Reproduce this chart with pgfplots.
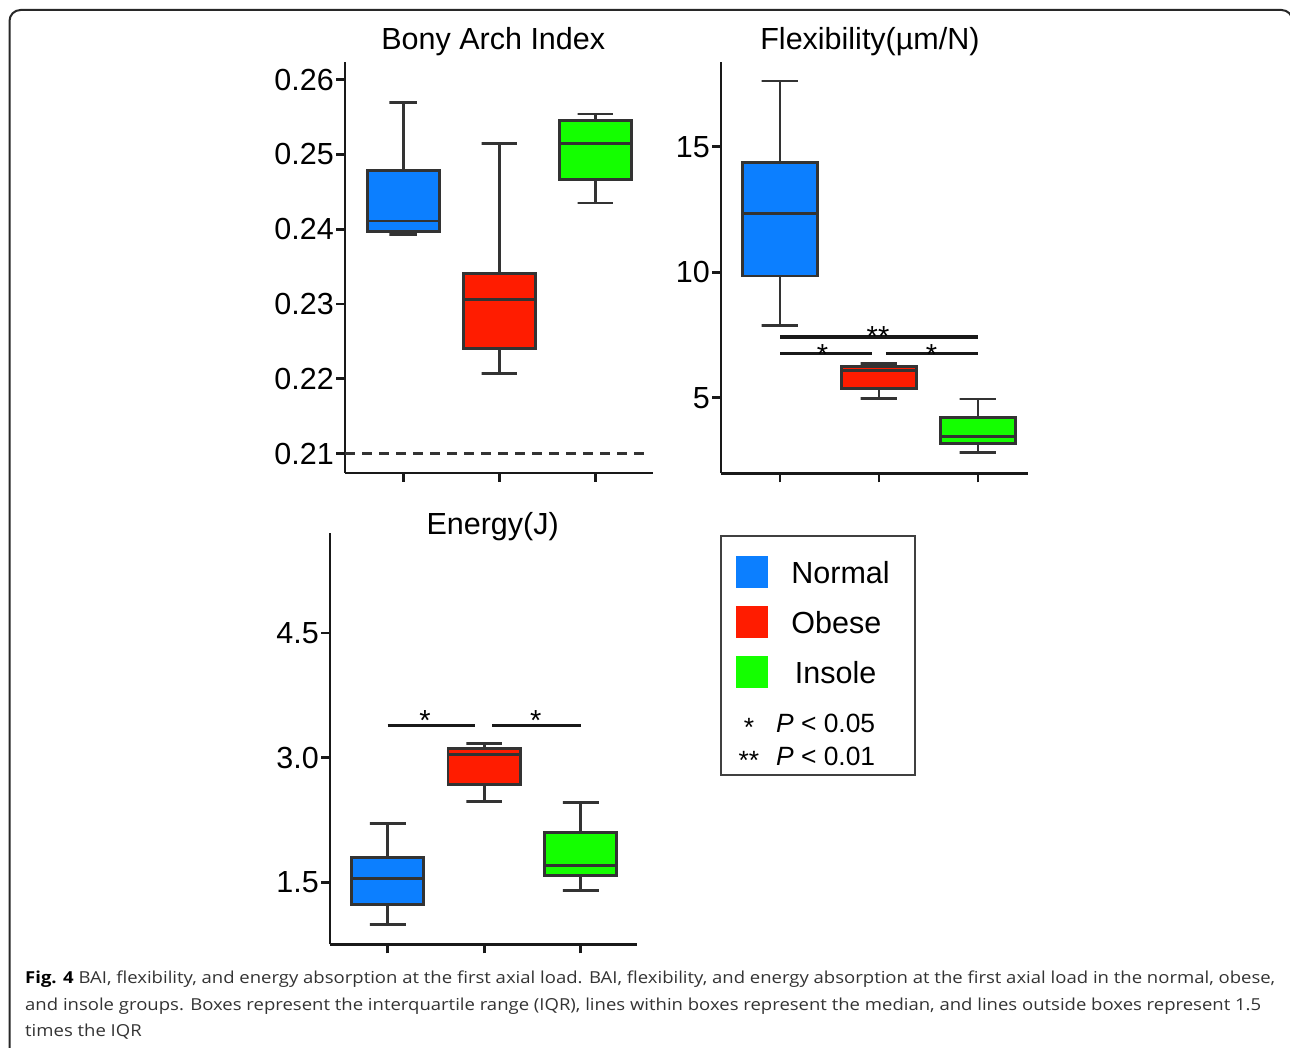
\documentclass[border=0pt]{standalone}
\usepackage{graphicx}
\usepackage{pgfplots}
\pgfplotsset{compat=1.18}
\usepackage{fontspec}
\setmainfont{Liberation Sans}
\newfontfamily\capfont{Open Sans}
\definecolor{cNormal}{RGB}{12,127,255}
\definecolor{cObese}{RGB}{255,28,0}
\definecolor{cInsole}{RGB}{20,255,0}
\definecolor{edge}{RGB}{51,51,51}
\definecolor{framec}{RGB}{40,40,40}
\newsavebox\capA
\newlength\capw
\tikzset{
  sig/.style={line width=3.5pt, black!90},
  star/.style={font=\fontsize{29}{29}\selectfont, anchor=base, inner sep=0pt},
}
\pgfplotsset{
  panel/.style={
    scale only axis,
    axis lines=left,
    axis line style={-, line width=2.9pt, black!90},
    xtick={0,1,2}, xticklabels={},
    tick align=outside, major tick length=9pt,
    tick style={line width=2.9pt, black!90},
    yticklabel style={font=\fontsize{30.5}{30.5}\selectfont, inner sep=2pt},
    /pgf/number format/assume math mode=true,
    scaled y ticks=false,
    title style={font=\fontsize{30.5}{30.5}\selectfont, at={(0.5,1)}, anchor=base, inner sep=0pt},
    clip=false,
  },
  bx/.style={forget plot, draw=edge, line width=2.9pt, fill=#1, mark=none},
  wh/.style={forget plot, draw=edge, line width=2.9pt, mark=none},
}
\begin{document}%
\sbox\capA{\capfont\fontsize{16.5}{20}\selectfont\textbf{Fig. 4} {\color{black!80}BAI, flexibility, and energy absorption at the first axial load. BAI, flexibility, and energy absorption at the first axial load in the normal, obese,}}%
\setlength{\capw}{\wd\capA}%
\pgfmathsetmacro\capscale{1250pt/\capw}%
\begin{tikzpicture}
\useasboundingbox (0pt,0pt) rectangle (1290pt,1048pt);
\clip (0pt,0pt) rectangle (1290pt,1048pt);
\draw[framec, line width=2pt, rounded corners=11pt] (9.5pt,-30pt) rectangle (1292.5pt,1038pt);

% ---------------- Bony Arch Index ----------------
\begin{axis}[panel, at={(345pt,575pt)}, anchor=south west,
  width=307.7pt, height=411.3pt,
  xmin=-0.607, xmax=2.598, ymin=0.2074, ymax=0.2624,
  ytick={0.21,0.22,0.23,0.24,0.25,0.26},
  yticklabel style={/pgf/number format/.cd, fixed, fixed zerofill, precision=2},
  title={Bony Arch Index}, title style={yshift=6.4pt, xshift=-5.6pt}]
\addplot[wh, dash pattern=on 10pt off 7pt] coordinates {(-0.607,0.21) (2.56,0.21)};
% Normal
\addplot[wh] coordinates {(0,0.2479) (0,0.2570) (-0.146,0.2570) (0.146,0.2570)};
\addplot[wh] coordinates {(0,0.2397) (0,0.2393) (-0.146,0.2393) (0.146,0.2393)};
\addplot[bx=cNormal] coordinates {(-0.375,0.2397) (0.375,0.2397) (0.375,0.2479) (-0.375,0.2479)} -- cycle;
\addplot[wh] coordinates {(-0.375,0.2411) (0.375,0.2411)};
% Obese
\addplot[wh] coordinates {(1,0.2341) (1,0.2515) (0.815,0.2515) (1.185,0.2515)};
\addplot[wh] coordinates {(1,0.2241) (1,0.2207) (0.815,0.2207) (1.185,0.2207)};
\addplot[bx=cObese] coordinates {(0.625,0.2241) (1.375,0.2241) (1.375,0.2341) (0.625,0.2341)} -- cycle;
\addplot[wh] coordinates {(0.625,0.2306) (1.375,0.2306)};
% Insole
\addplot[wh] coordinates {(2,0.2545) (2,0.2554) (1.815,0.2554) (2.185,0.2554)};
\addplot[wh] coordinates {(2,0.2466) (2,0.2435) (1.815,0.2435) (2.185,0.2435)};
\addplot[bx=cInsole] coordinates {(1.625,0.2466) (2.375,0.2466) (2.375,0.2545) (1.625,0.2545)} -- cycle;
\addplot[wh] coordinates {(1.625,0.2514) (2.375,0.2514)};
\end{axis}

% ---------------- Flexibility ----------------
\begin{axis}[panel, at={(721pt,574.7pt)}, anchor=south west,
  width=307.3pt, height=411.6pt,
  xmin=-0.596, xmax=2.508, ymin=1.99, ymax=18.39,
  ytick={5,10,15},
  title={Flexibility(µm/N)}, title style={yshift=6.4pt, xshift=-4.7pt}]
% Normal
\addplot[wh] coordinates {(0,14.36) (0,17.62) (-0.185,17.62) (0.185,17.62)};
\addplot[wh] coordinates {(0,9.85) (0,7.87) (-0.185,7.87) (0.185,7.87)};
\addplot[bx=cNormal] coordinates {(-0.375,9.85) (0.375,9.85) (0.375,14.36) (-0.375,14.36)} -- cycle;
\addplot[wh] coordinates {(-0.375,12.35) (0.375,12.35)};
% Obese
\addplot[wh] coordinates {(1,6.23) (1,6.37) (0.815,6.37) (1.185,6.37)};
\addplot[wh] coordinates {(1,5.37) (1,4.96) (0.815,4.96) (1.185,4.96)};
\addplot[bx=cObese] coordinates {(0.625,5.37) (1.375,5.37) (1.375,6.23) (0.625,6.23)} -- cycle;
\addplot[wh] coordinates {(0.625,6.07) (1.375,6.07)};
% Insole
\addplot[wh] coordinates {(2,4.22) (2,4.95) (1.815,4.95) (2.185,4.95)};
\addplot[wh] coordinates {(2,3.19) (2,2.83) (1.815,2.83) (2.185,2.83)};
\addplot[bx=cInsole] coordinates {(1.625,3.19) (2.375,3.19) (2.375,4.22) (1.625,4.22)} -- cycle;
\addplot[wh] coordinates {(1.625,3.45) (2.375,3.45)};
\draw[sig] (axis cs:0,7.43) -- (axis cs:2,7.43);
\draw[sig] (axis cs:0,6.77) -- (axis cs:0.93,6.77);
\draw[sig] (axis cs:1.07,6.77) -- (axis cs:2,6.77);
\node[star, yshift=-9.3pt] at (axis cs:0.99,7.43) {**};
\node[star, yshift=-11.3pt] at (axis cs:0.43,6.77) {*};
\node[star, yshift=-11.3pt] at (axis cs:1.53,6.77) {*};
\end{axis}

% ---------------- Energy ----------------
\begin{axis}[panel, at={(330pt,103.7pt)}, anchor=south west,
  width=306.7pt, height=411pt,
  xmin=-0.598, xmax=2.58, ymin=0.753, ymax=5.70,
  ytick={1.5,3.0,4.5},
  yticklabel style={/pgf/number format/.cd, fixed, fixed zerofill, precision=1},
  title={Energy(J)}, title style={yshift=-7.7pt, xshift=9.3pt},
  legend style={at={(1.2716,0.9959)}, anchor=north west, draw=black!75, line width=2pt, fill=white,
    inner xsep=15.4pt, inner ysep=20.5pt, row sep=18pt, column sep=23pt,
    cells={anchor=west}, nodes={inner sep=0pt, text depth=},
    font=\fontsize{30.5}{33}\selectfont}]
% Normal
\addplot[wh] coordinates {(0,1.80) (0,2.21) (-0.185,2.21) (0.185,2.21)};
\addplot[wh] coordinates {(0,1.23) (0,0.99) (-0.185,0.99) (0.185,0.99)};
\addplot[bx=cNormal] coordinates {(-0.375,1.23) (0.375,1.23) (0.375,1.80) (-0.375,1.80)} -- cycle;
\addplot[wh] coordinates {(-0.375,1.54) (0.375,1.54)};
% Obese
\addplot[wh] coordinates {(1,3.11) (1,3.17) (0.815,3.17) (1.185,3.17)};
\addplot[wh] coordinates {(1,2.68) (1,2.47) (0.815,2.47) (1.185,2.47)};
\addplot[bx=cObese] coordinates {(0.625,2.68) (1.375,2.68) (1.375,3.11) (0.625,3.11)} -- cycle;
\addplot[wh] coordinates {(0.625,3.04) (1.375,3.04)};
% Insole
\addplot[wh] coordinates {(2,2.10) (2,2.46) (1.815,2.46) (2.185,2.46)};
\addplot[wh] coordinates {(2,1.58) (2,1.40) (1.815,1.40) (2.185,1.40)};
\addplot[bx=cInsole] coordinates {(1.625,1.58) (2.375,1.58) (2.375,2.10) (1.625,2.10)} -- cycle;
\addplot[wh] coordinates {(1.625,1.70) (2.375,1.70)};
\draw[sig] (axis cs:0,3.385) -- (axis cs:0.905,3.385);
\draw[sig] (axis cs:1.085,3.385) -- (axis cs:2,3.385);
\node[star, yshift=-4.6pt] at (axis cs:0.387,3.385) {*};
\node[star, yshift=-4.6pt] at (axis cs:1.534,3.385) {*};
\addlegendimage{legend image code/.code={\fill[cNormal, draw=none] (0pt,-16pt) rectangle (32pt,16pt);}}
\addlegendentry{Normal\hspace*{10.3pt}}
\addlegendimage{legend image code/.code={\fill[cObese, draw=none] (0pt,-16pt) rectangle (32pt,16pt);}}
\addlegendentry{Obese}
\addlegendimage{legend image code/.code={\fill[cInsole, draw=none] (0pt,-16pt) rectangle (32pt,16pt);}}
\addlegendentry{\hspace*{3.5pt}Insole}
\addlegendimage{legend image code/.code={\path[draw=none, fill=none] (0pt,0pt) rectangle (32pt,0pt);}}
\addlegendentry{\hspace*{-52pt}\fontsize{26.4}{33}\selectfont\begin{tabular}{@{}l@{}}\rule{0pt}{26.3pt}\makebox[19pt][c]{\raisebox{-4pt}{*}}\hspace{17.7pt}\textit{P} < 0.05\\ \makebox[19pt][c]{\raisebox{-4pt}{**}}\hspace{17.7pt}\textit{P} < 0.01\\[-20.9pt]\end{tabular}}
\end{axis}

% ---------------- Caption ----------------
\node[anchor=base west, inner sep=0pt] at (25pt,64pt) {\scalebox{\capscale}[1]{\usebox\capA}};
\node[anchor=base west, inner sep=0pt, text=black!80] at (25pt,37.5pt) {\scalebox{\capscale}[1]{\capfont\fontsize{16.5}{20}\selectfont and insole groups. Boxes represent the interquartile range (IQR), lines within boxes represent the median, and lines outside boxes represent 1.5}};
\node[anchor=base west, inner sep=0pt, text=black!80] at (25pt,11pt) {\scalebox{\capscale}[1]{\capfont\fontsize{16.5}{20}\selectfont times the IQR}};
\end{tikzpicture}%
\end{document}
